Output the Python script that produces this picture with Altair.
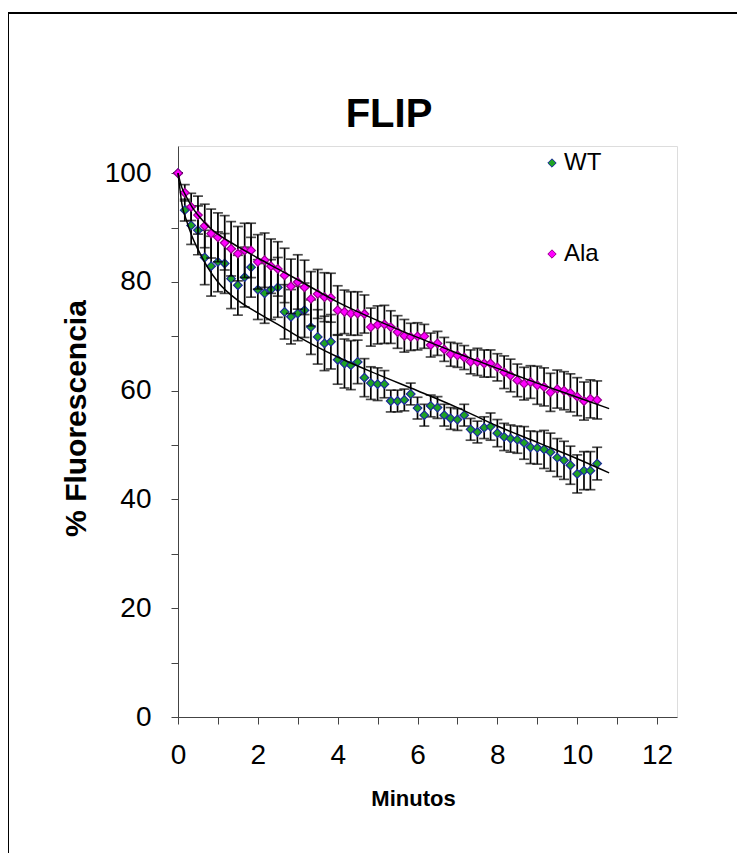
import altair as alt
import pandas as pd

# Tiempo (minutos), una imagen cada 10 s
minutos = [0.0, 0.17, 0.33, 0.5, 0.67, 0.83, 1.0, 1.17, 1.33, 1.5, 1.67, 1.83,
           2.0, 2.17, 2.33, 2.5, 2.67, 2.83, 3.0, 3.17, 3.33, 3.5, 3.67, 3.83,
           4.0, 4.17, 4.33, 4.5, 4.67, 4.83, 5.0, 5.17, 5.33, 5.5, 5.67, 5.83,
           6.0, 6.17, 6.33, 6.5, 6.67, 6.83, 7.0, 7.17, 7.33, 7.5, 7.67, 7.83,
           8.0, 8.17, 8.33, 8.5, 8.67, 8.83, 9.0, 9.17, 9.33, 9.5, 9.67, 9.83,
           10.0, 10.17, 10.33, 10.5]

wt = [100, 93.2, 90.4, 89.5, 84.5, 82.9, 83.7, 83.4, 80.6, 79.4, 80.9, 82.7,
      78.6, 77.9, 78.6, 79.0, 74.5, 73.6, 74.2, 74.8, 71.7, 69.9, 68.7, 69.0,
      65.7, 65.0, 64.7, 65.3, 62.4, 61.4, 61.2, 61.2, 58.1, 58.1, 58.3, 59.4,
      56.8, 55.5, 57.2, 56.9, 55.5, 54.9, 54.7, 55.5, 52.9, 52.4, 53.2, 53.4,
      52.2, 51.5, 51.2, 51.0, 50.4, 49.6, 49.5, 49.2, 48.7, 47.7, 47.2, 46.3,
      44.7, 45.3, 45.3, 46.6]
wt_err = [0, 2, 3.5, 4.5, 5, 5.5, 5.5, 5.5, 5.5, 5.5, 5.5, 5.5,
          5.5, 5.5, 5.5, 5.5, 5, 5, 5, 5, 5, 5, 5, 5,
          4.5, 4.5, 4.5, 4, 3.5, 3, 3, 2.5, 2, 2, 2, 2,
          2, 2, 2, 2, 2, 2, 2, 2, 2, 2, 2, 2.5,
          2.5, 2.5, 2.5, 2.5, 3, 3, 3, 3.5, 3.5, 3.5, 3.5, 3.5,
          3.5, 3.5, 3.5, 3]

ala = [100, 96.4, 93.8, 92.3, 90.3, 88.9, 88.2, 87.2, 86.1, 85.2, 85.8, 85.8,
       83.7, 84.0, 82.9, 82.4, 81.2, 79.2, 80.0, 79.0, 76.9, 77.8, 77.2, 77.1,
       74.8, 74.5, 74.2, 74.2, 74.1, 71.7, 72.1, 72.2, 71.7, 70.8, 70.1, 69.9,
       70.0, 70.0, 68.4, 68.7, 67.6, 66.7, 66.5, 66.1, 65.3, 65.3, 65.0, 65.0,
       64.3, 63.4, 62.8, 61.9, 61.3, 61.6, 61.0, 60.7, 59.7, 60.3, 60.0, 59.6,
       58.9, 58.1, 58.5, 58.3]
ala_err = [0, 1.5, 2.5, 3.5, 4, 4.5, 4.5, 5, 5, 5, 5, 5,
           5, 5, 5, 5, 5, 5, 5, 5, 5, 4.5, 4.5, 4.5,
           4.5, 4, 4, 4, 3.5, 3.5, 3.5, 3.5, 3, 3, 3, 2.5,
           2.5, 2.2, 2.2, 2.2, 2.2, 2.2, 2.2, 2.2, 2.2, 2.5, 2.5, 2.5,
           2.5, 3, 3, 3, 3, 3, 3.5, 3.5, 3.5, 3.5, 3.5, 3.5,
           3.5, 3.5, 3.5, 3.5]

# Curvas de ajuste
fit_t = [0, 0.05, 0.1, 0.2, 0.35, 0.5, 0.75, 1, 1.5, 2, 2.5, 3, 4, 5, 6, 7, 8, 9, 10, 10.8]
fit_wt = [100, 97.0, 94.2, 91.6, 88.4, 86.0, 82.6, 80.0, 76.6, 74.3, 72.2, 70.0,
          66.2, 63.0, 60.0, 56.9, 53.5, 50.5, 47.5, 44.9]
fit_ala = [100, 98.5, 97.3, 95.8, 93.8, 92.3, 90.3, 88.8, 86.5, 84.4, 82.4, 80.4,
           76.3, 72.9, 69.8, 66.9, 64.1, 61.4, 58.8, 56.7]

series = ["WT", "Ala"]
fills = ["#1ea324", "#ff00ff"]
strokes = ["#1a2a9a", "#9a0090"]

rows = []
for name, vals, errs in [("WT", wt, wt_err), ("Ala", ala, ala_err)]:
    for t, v, e in zip(minutos, vals, errs):
        rows.append({"serie": name, "t": t, "v": v, "lo": v - e, "hi": v + e})
pts = pd.DataFrame(rows)

fit_rows = []
for name, vals in [("WT", fit_wt), ("Ala", fit_ala)]:
    for t, v in zip(fit_t, vals):
        fit_rows.append({"serie": name, "t": t, "v": v})
fits = pd.DataFrame(fit_rows)

W, H = 499, 571
FONT = "Liberation Sans"

xs = alt.Scale(domain=[0, 12.5], nice=False, zero=False)
ys = alt.Scale(domain=[0, 105], nice=False)

x_axis = alt.Axis(values=list(range(0, 13)),
                  labelExpr="datum.value % 2 == 0 ? datum.label : ''",
                  title="Minutos", titleFont=FONT, titleFontSize=22, titleFontWeight="bold",
                  titleColor="black", titleX=235, titlePadding=19,
                  labelFont=FONT, labelFontSize=28, labelColor="black", labelPadding=17,
                  labelFlush=False, labelOverlap=False,
                  tickSize=7, tickColor="#444", domainColor="#444", grid=False)
y_axis = alt.Axis(values=list(range(0, 106, 5)),
                  labelExpr="datum.value % 20 == 0 ? datum.label : ''",
                  title="% Fluorescencia", titleFont=FONT, titleFontSize=30, titleFontWeight="bold",
                  titleColor="black", titleY=272, titlePadding=13,
                  labelFont=FONT, labelFontSize=28, labelColor="black", labelPadding=20,
                  labelOverlap=False, labelFlush=False,
                  tickSize=7, tickColor="#444", domainColor="#444", grid=False)

color_enc = alt.Color("serie:N", scale=alt.Scale(domain=series, range=fills),
                      legend=alt.Legend(title=None, orient="none", legendX=362, legendY=5,
                                        symbolType="diamond", symbolSize=70, symbolStrokeWidth=1,
                                        labelFont=FONT, labelFontSize=24, labelColor="black",
                                        labelOffset=0, rowPadding=67, padding=0))
stroke_enc = alt.Stroke("serie:N", scale=alt.Scale(domain=series, range=strokes), legend=None)

layers = []
base = alt.Chart(pts)
for name in series:
    b = base.transform_filter(alt.datum.serie == name)
    layers.append(b.mark_rule(color="black", strokeWidth=1.7).encode(
        x=alt.X("t:Q", scale=xs, axis=x_axis), y=alt.Y("lo:Q", scale=ys, axis=y_axis), y2="hi:Q"))
    layers.append(b.mark_tick(color="black", orient="horizontal", size=10, thickness=1.7).encode(
        x=alt.X("t:Q", scale=xs), y=alt.Y("hi:Q", scale=ys)))
    layers.append(b.mark_tick(color="black", orient="horizontal", size=10, thickness=1.7).encode(
        x=alt.X("t:Q", scale=xs), y=alt.Y("lo:Q", scale=ys)))
    layers.append(b.mark_point(shape="diamond", filled=True, size=75, opacity=1, strokeWidth=1.2).encode(
        x=alt.X("t:Q", scale=xs), y=alt.Y("v:Q", scale=ys), fill=color_enc, stroke=stroke_enc))

fit_layer = alt.Chart(fits).mark_line(color="black", strokeWidth=1.5, interpolate="monotone").encode(
    x=alt.X("t:Q", scale=xs), y=alt.Y("v:Q", scale=ys), detail="serie:N")
layers.append(fit_layer)

frame = alt.Chart(pd.DataFrame({"k": [0]})).mark_rect(
    filled=False, stroke="black", strokeWidth=2, clip=False).encode(
    x=alt.value(-170), x2=alt.value(W + 120), y=alt.value(-133), y2=alt.value(H + 200))

title = alt.Chart(pd.DataFrame({"titulo": ["FLIP"]})).mark_text(
    font=FONT, fontSize=40, fontWeight="bold", color="black", align="center",
    baseline="alphabetic", clip=False).encode(
    text="titulo:N", x=alt.value(211), y=alt.value(-19))

chart = alt.layer(frame, title, *layers).properties(
    width=W, height=H,
    autosize=alt.AutoSizeParams(type="none"),
    padding={"left": 170, "top": 138, "right": 60, "bottom": 136},
).configure_view(stroke=None).configure(background="white")

chart.save("out.html", embed_options={"renderer": "svg", "actions": False})
